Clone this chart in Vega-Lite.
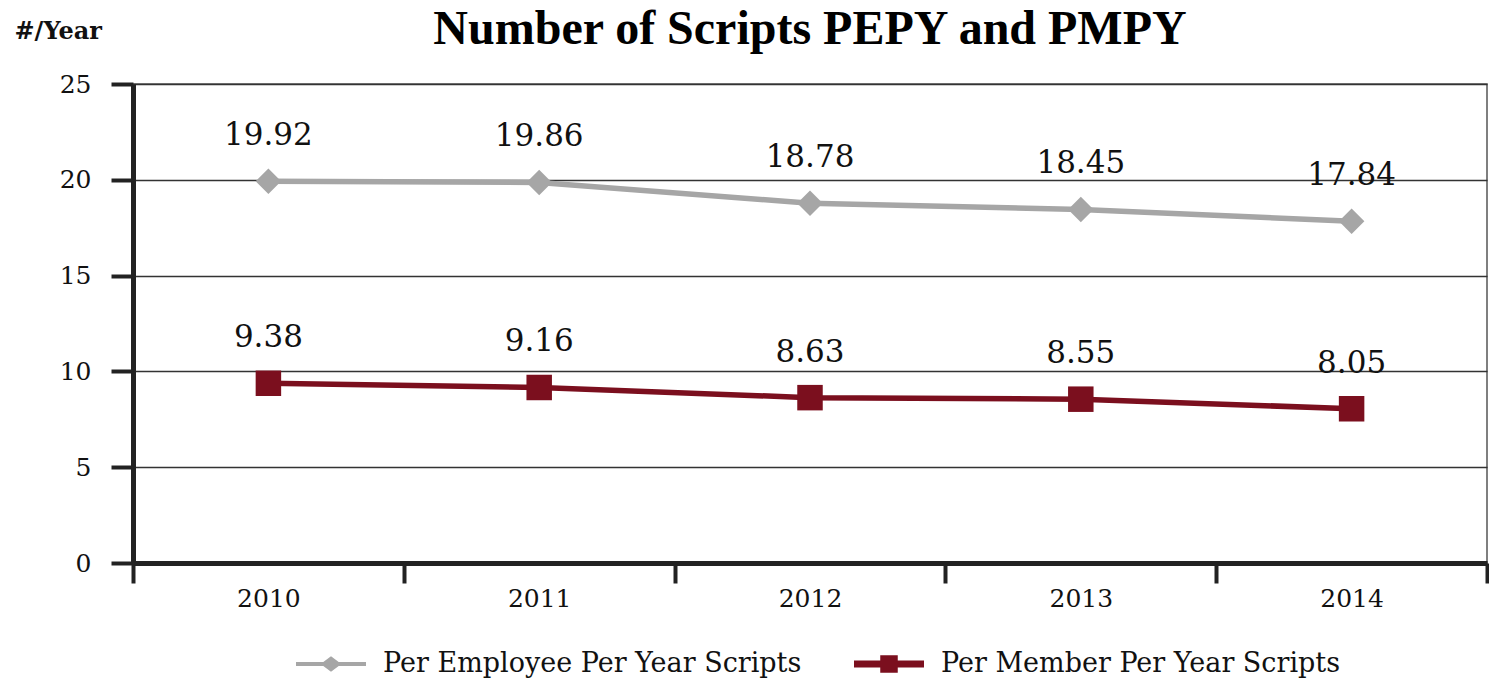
{
  "$schema": "https://vega.github.io/schema/vega-lite/v6.json",
  "width": 1354,
  "height": 479,
  "autosize": {"type": "none"},
  "padding": {"left": 133, "top": 84, "right": 2, "bottom": 121},
  "background": "white",
  "title": {
    "text": "Number of Scripts PEPY and PMPY",
    "font": "Liberation Serif",
    "fontSize": 48,
    "fontWeight": "bold",
    "color": "#000",
    "anchor": "middle",
    "frame": "group",
    "offset": 10,
    "dy": 45
  },
  "config": {"view": {"stroke": "#555", "strokeWidth": 1.5}},
  "data": {
    "values": [
      {"year": "2010", "series": "Per Employee Per Year Scripts", "value": 19.92},
      {"year": "2011", "series": "Per Employee Per Year Scripts", "value": 19.86},
      {"year": "2012", "series": "Per Employee Per Year Scripts", "value": 18.78},
      {"year": "2013", "series": "Per Employee Per Year Scripts", "value": 18.45},
      {"year": "2014", "series": "Per Employee Per Year Scripts", "value": 17.84},
      {"year": "2010", "series": "Per Member Per Year Scripts", "value": 9.38},
      {"year": "2011", "series": "Per Member Per Year Scripts", "value": 9.16},
      {"year": "2012", "series": "Per Member Per Year Scripts", "value": 8.63},
      {"year": "2013", "series": "Per Member Per Year Scripts", "value": 8.55},
      {"year": "2014", "series": "Per Member Per Year Scripts", "value": 8.05}
    ]
  },
  "encoding": {
    "x": {
      "field": "year",
      "type": "ordinal",
      "scale": {"type": "band", "paddingInner": 0, "paddingOuter": 0},
      "axis": {
        "title": null,
        "labelAngle": 0,
        "tickBand": "extent",
        "tickSize": 20,
        "tickWidth": 4,
        "tickColor": "#222",
        "domainColor": "#222",
        "domainWidth": 5,
        "labelFont": "DejaVu Serif",
        "labelFontSize": 25,
        "labelColor": "#111",
        "labelPadding": 3,
        "grid": false
      }
    },
    "y": {
      "field": "value",
      "type": "quantitative",
      "scale": {"domain": [0, 25]},
      "axis": {
        "title": "#/Year",
        "titleAngle": 0,
        "titleAlign": "left",
        "titleBaseline": "alphabetic",
        "titleX": -119,
        "titleY": -46,
        "titleFont": "DejaVu Serif",
        "titleFontSize": 24,
        "titleFontWeight": "bold",
        "titleColor": "#111",
        "values": [0, 5, 10, 15, 20, 25],
        "grid": true,
        "gridColor": "#333",
        "gridWidth": 1.5,
        "domainColor": "#222",
        "domainWidth": 5,
        "tickSize": 22,
        "tickWidth": 4,
        "tickColor": "#222",
        "labelFont": "DejaVu Serif",
        "labelFontSize": 25,
        "labelColor": "#111",
        "labelPadding": 20
      }
    }
  },
  "layer": [
    {
      "mark": {"type": "line", "strokeWidth": 5.5},
      "encoding": {
        "color": {
          "field": "series",
          "type": "nominal",
          "scale": {
            "domain": ["Per Employee Per Year Scripts", "Per Member Per Year Scripts"],
            "range": ["#A6A6A6", "#7B0F1E"]
          },
          "legend": {
            "title": null,
            "orient": "none",
            "legendX": 163,
            "legendY": 545,
            "direction": "horizontal",
            "padding": 0,
            "columnPadding": 52,
            "labelFont": "DejaVu Serif",
            "labelFontSize": 27,
            "labelColor": "#111",
            "labelOffset": 17,
            "labelLimit": 800,
            "symbolSize": 4900,
            "symbolStrokeWidth": 0,
            "encode": {
              "symbols": {
                "update": {
                  "shape": {"signal": "datum.value === 'Per Employee Per Year Scripts' ? 'M-1,-0.06H-0.22L0,-0.22L0.22,-0.06H1V0.06H0.22L0,0.22L-0.22,0.06H-1Z' : 'M-1,-0.1H-0.25V-0.25H0.25V-0.1H1V0.1H0.25V0.25H-0.25V0.1H-1Z'"},
                  "fill": {"signal": "scale('color', datum.value)"},
                  "strokeWidth": {"value": 0},
                  "opacity": {"value": 1}
                }
              }
            }
          }
        }
      }
    },
    {
      "mark": {"type": "point", "filled": true, "opacity": 1, "size": 650},
      "encoding": {
        "color": {"field": "series", "type": "nominal"},
        "shape": {
          "field": "series",
          "type": "nominal",
          "scale": {"range": ["diamond", "square"]},
          "legend": null
        }
      }
    },
    {
      "mark": {
        "type": "text",
        "dy": -36,
        "baseline": "alphabetic",
        "font": "DejaVu Serif",
        "fontSize": 31,
        "color": "#111"
      },
      "encoding": {
        "text": {"field": "value", "type": "quantitative", "format": ".2f"}
      }
    }
  ]
}
